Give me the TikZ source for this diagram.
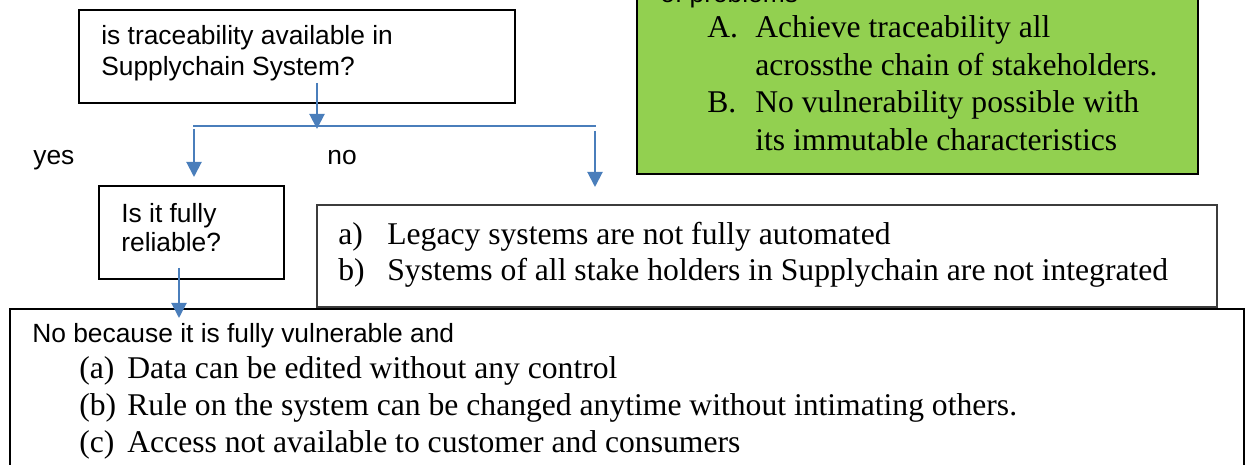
\documentclass[tikz,border=0pt]{standalone}
\usepackage{fontspec}
\setmainfont{Liberation Serif}
\newfontfamily\arialfont{Liberation Sans}
\usepackage{xcolor}
\usetikzlibrary{arrows.meta,fit}

\definecolor{flowblue}{RGB}{74,126,187}
\definecolor{boxgreen}{RGB}{146,208,80}
\definecolor{boxgray}{RGB}{60,60,60}

\tikzset{
  box/.style={draw, inner sep=0pt, line width=0.034cm},
  sanstext/.style={anchor=base west, inner sep=0pt, font=\arialfont\fontsize{15}{18}\selectfont},
  seriftext/.style={anchor=base west, inner sep=0pt, font=\fontsize{18}{21}\selectfont},
  flow/.style={draw=flowblue, line width=0.04cm, -{Triangle[length=0.3cm,width=0.3cm]}},
  bar/.style={draw=flowblue, line width=0.028cm}
}

\begin{document}
\begin{tikzpicture}[x=0.02cm, y=-0.02cm]
\def\labelx{79}
\def\itemx{127}

\useasboundingbox (0,0) rectangle (1248,465);
\clip (0,0) rectangle (1248,465);

% QUESTION BOX
\node[box, fit={(79,10) (515,103)}] (question) {};
\node[sanstext] (questionA) at (101,45) {is traceability available in};
\node[sanstext] (questionB) at (101,76) {Supplychain System?};

% GREEN BOX (top cut off)
\node[box, line width=0.05cm, fill=boxgreen, fit={(637,-40) (1198,174)}] (benefit) {};
\node[sanstext] (benefitlead) at (660,3) {of problems};
\node[seriftext] (benefitlabA) at (707,38) {A.};
\node[seriftext] (benefitA) at (755,38) {Achieve traceability all};
\node[seriftext] (benefitAA) at (755,75.5) {acrossthe chain of stakeholders.};
\node[seriftext] (benefitlabB) at (707,113) {B.};
\node[seriftext] (benefitB) at (755,113) {No vulnerability possible with};
\node[seriftext] (benefitBB) at (755,150.5) {its immutable characteristics};

% BRANCHES
\coordinate (qout) at (317,83);
\coordinate (qtip) at (317,129);
\coordinate (barleft) at (193,126);
\coordinate (barright) at (596,126);
\coordinate (yestop) at (194,129);
\coordinate (yestip) at (194,177);
\coordinate (notop) at (595,131);
\coordinate (notip) at (595,187);

\draw[bar] (barleft) -- (barright);
\draw[flow] (qout) -- (qtip);
\draw[flow] (yestop) -- (yestip);
\draw[flow] (notop) -- (notip);

\node[sanstext] (yes) at (33,165) {yes};
\node[sanstext] (no) at (327,165) {no};

% RELIABLE BOX
\node[box, fit={(99,186) (284,279)}] (reliable) {};
\node[sanstext] (reliableA) at (121,223) {Is it fully};
\node[sanstext] (reliableB) at (121,252) {reliable?};

% LEGACY BOX
\node[box, draw=boxgray, line width=0.026cm, fit={(317,205) (1217,307)}] (legacy) {};
\node[seriftext] (legacylabA) at (338,245) {a)};
\node[seriftext] (legacyA) at (387,245) {Legacy systems are not fully automated};
\node[seriftext] (legacylabB) at (338,280.5) {b)};
\node[seriftext] (legacyB) at (387,280.5) {Systems of all stake holders in Supplychain are not integrated};

% VULNERABLE BOX (bottom cut off)
\node[box, line width=0.04cm, fit={(10,309) (1244,500)}] (vulnerable) {};
\node[sanstext] (vulnlead) at (32,343) {No because it is fully vulnerable and};
\foreach \lab/\txt [count=\i] in {{(a)}/Data can be edited without any control,
    {(b)}/Rule on the system can be changed anytime without intimating others.,
    {(c)}/Access not available to customer and consumers}
{
  \node[seriftext] (vulnlab\i) at (\labelx,342+36.7*\i) {\lab};
  \node[seriftext] (vulnitem\i) at (\itemx,342+36.7*\i) {\txt};
}

\coordinate (relout) at (179,268);
\coordinate (reltip) at (179,318);
\draw[flow] (relout) -- (reltip);

\end{tikzpicture}
\end{document}
